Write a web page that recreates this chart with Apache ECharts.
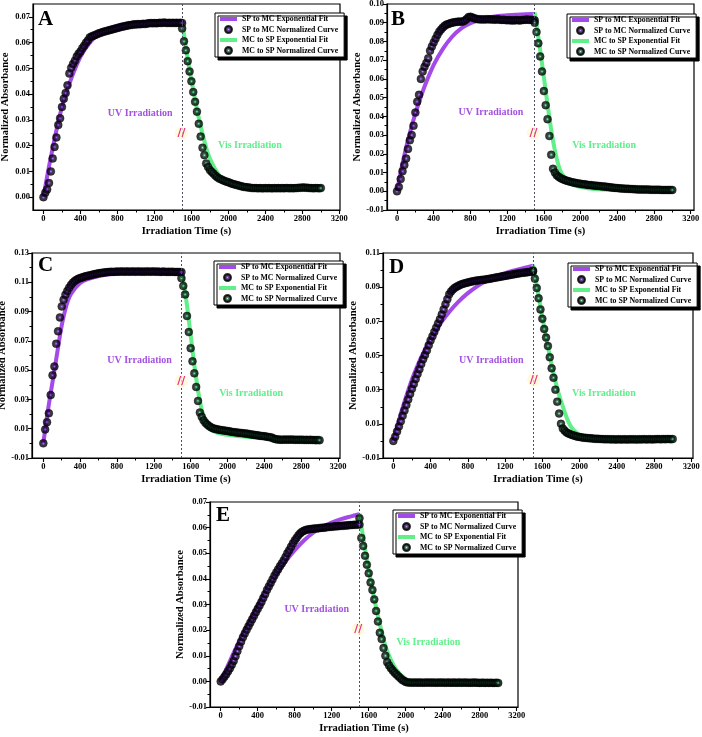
<!DOCTYPE html>
<html><head><meta charset="utf-8">
<script src="https://cdn.jsdelivr.net/npm/echarts@6/dist/echarts.min.js"></script>
<style>html,body{margin:0;padding:0;background:#fff}#c{width:702px;height:737px}</style>
</head><body><div id="c"></div>
<script>
// ---------- DATA ----------
const uvTime = [0,20,40,60,80,100,120,140,160,180,200,220,240,260,280,300,320,340,360,380,400,420,440,460,480,500,520,540,560,580,600,620,640,660,680,700,720,740,760,780,800,820,840,860,880,900,920,940,960,980,1000,1020,1040,1060,1080,1100,1120,1140,1160,1180,1200,1220,1240,1260,1280,1300,1320,1340,1360,1380,1400,1420,1440,1460,1480,1500];
const visTime = [1500,1520,1540,1560,1580,1600,1620,1640,1660,1680,1700,1720,1740,1760,1780,1800,1820,1840,1860,1880,1900,1920,1940,1960,1980,2000,2020,2040,2060,2080,2100,2120,2140,2160,2180,2200,2220,2240,2260,2280,2300,2320,2340,2360,2380,2400,2420,2440,2460,2480,2500,2520,2540,2560,2580,2600,2620,2640,2660,2680,2700,2720,2740,2760,2780,2800,2820,2840,2860,2880,2900,2920,2940,2960,2980,3000];
const uvFitTime = [0,50,100,150,200,250,300,400,500,600,700,800,900,1000,1100,1200,1300,1400,1500];
const visFitTime = [1500,1550,1600,1650,1700,1750,1800,1900,2000,2100,2200,2400,2600,2800,3000];

const xTickLabels = [0,400,800,1200,1600,2000,2400,2800,3200];
const yTicksA = [0,0.01,0.02,0.03,0.04,0.05,0.06,0.07];
const yTicksB = [-0.01,0,0.01,0.02,0.03,0.04,0.05,0.06,0.07,0.08,0.09,0.10];
const yTicksC = [-0.01,0.01,0.03,0.05,0.07,0.09,0.11,0.13];
const yTicksD = [-0.01,0.01,0.03,0.05,0.07,0.09,0.11];
const yTicksE = [-0.01,0,0.01,0.02,0.03,0.04,0.05,0.06,0.07];

const panelLetters = ['A','B','C','D','E'];
const seriesNames = ['SP to MC Exponential Fit','SP to MC Normalized Curve','MC to SP Exponential Fit','MC to SP Normalized Curve'];

// Panel A
const aUV = [0.0000,0.0017,0.0030,0.0055,0.0100,0.0150,0.0195,0.0232,0.0280,0.0306,
0.0350,0.0382,0.0404,0.0434,0.0480,0.0502,0.0517,0.0530,0.0546,0.0557,
0.0566,0.0578,0.0588,0.0600,0.0608,0.0620,0.0624,0.0627,0.0630,0.0633,
0.0636,0.0638,0.0641,0.0643,0.0645,0.0647,0.0649,0.0651,0.0653,0.0655,
0.0657,0.0659,0.0661,0.0663,0.0664,0.0666,0.0667,0.0668,0.0669,0.0671,
0.0670,0.0672,0.0671,0.0672,0.0673,0.0672,0.0674,0.0675,0.0676,0.0675,
0.0676,0.0675,0.0676,0.0677,0.0676,0.0678,0.0677,0.0676,0.0677,0.0676,
0.0677,0.0676,0.0677,0.0676,0.0677,0.0676];
const aVis = [0.0655,0.0605,0.0570,0.0528,0.0488,0.0450,0.0408,0.0370,0.0332,0.0285,
0.0235,0.0192,0.0163,0.0131,0.0117,0.0105,0.0098,0.0091,0.0083,0.0077,
0.0072,0.0069,0.0066,0.0063,0.0060,0.0058,0.0055,0.0052,0.0050,0.0048,
0.0046,0.0044,0.0042,0.0040,0.0039,0.0038,0.0037,0.0036,0.0035,0.0035,
0.0035,0.0034,0.0035,0.0034,0.0034,0.0035,0.0034,0.0035,0.0034,0.0034,
0.0035,0.0034,0.0035,0.0034,0.0035,0.0034,0.0035,0.0035,0.0034,0.0035,
0.0034,0.0035,0.0035,0.0036,0.0036,0.0037,0.0037,0.0036,0.0036,0.0035,
0.0035,0.0034,0.0035,0.0035,0.0034,0.0035];
const aFitUV = [0,0.0100,0.0190,0.0275,0.0350,0.0410,0.0460,0.0545,0.0600,0.0633,0.0653,0.0664,0.0670,0.0674,0.0676,0.0677,0.0678,0.0678,0.0678];
const aFitVis = [0.0680,0.0560,0.0455,0.0360,0.0275,0.0205,0.0150,0.0085,0.0055,0.0042,0.0036,0.0033,0.0032,0.0032,0.0032];

// Panel B
const bUV = [0.0000,0.0023,0.0065,0.0107,0.0140,0.0175,0.0226,0.0272,0.0300,0.0350,
0.0420,0.0478,0.0515,0.0600,0.0640,0.0665,0.0685,0.0710,0.0750,0.0773,
0.0795,0.0815,0.0835,0.0852,0.0864,0.0875,0.0884,0.0890,0.0893,0.0897,
0.0900,0.0902,0.0904,0.0905,0.0906,0.0905,0.0907,0.0912,0.0920,0.0930,
0.0932,0.0928,0.0924,0.0921,0.0919,0.0918,0.0917,0.0918,0.0917,0.0919,
0.0918,0.0917,0.0918,0.0916,0.0917,0.0918,0.0916,0.0915,0.0916,0.0914,
0.0913,0.0914,0.0912,0.0913,0.0912,0.0914,0.0913,0.0912,0.0914,0.0915,
0.0916,0.0917,0.0915,0.0916,0.0914,0.0913];
const bVis = [0.0900,0.0850,0.0790,0.0720,0.0640,0.0535,0.0460,0.0385,0.0295,0.0195,
0.0120,0.0100,0.0086,0.0078,0.0071,0.0066,0.0062,0.0058,0.0055,0.0052,
0.0049,0.0047,0.0045,0.0043,0.0041,0.0040,0.0038,0.0037,0.0036,0.0034,
0.0033,0.0032,0.0031,0.0030,0.0029,0.0028,0.0027,0.0026,0.0025,0.0024,
0.0023,0.0021,0.0020,0.0019,0.0018,0.0017,0.0016,0.0015,0.0015,0.0014,
0.0013,0.0013,0.0012,0.0012,0.0011,0.0011,0.0010,0.0010,0.0010,0.0009,
0.0009,0.0009,0.0009,0.0008,0.0008,0.0008,0.0008,0.0008,0.0008,0.0007,
0.0007,0.0007,0.0007,0.0007,0.0007,0.0007];
const bFitUV = [0,0.0125,0.0235,0.0330,0.0415,0.0490,0.0560,0.0675,0.0760,0.0825,0.0870,0.0898,0.0916,0.0928,0.0936,0.0940,0.0943,0.0945,0.0946];
const bFitVis = [0.0955,0.0790,0.0610,0.0430,0.0270,0.0155,0.0090,0.0040,0.0022,0.0015,0.0011,0.0008,0.0007,0.0007,0.0007];

// Panel C
const cUV = [0.0000,0.0095,0.0145,0.0205,0.0330,0.0465,0.0525,0.0680,0.0765,0.0860,
0.0935,0.0980,0.1015,0.1040,0.1063,0.1082,0.1097,0.1108,0.1117,0.1124,
0.1129,0.1133,0.1137,0.1141,0.1144,0.1147,0.1150,0.1153,0.1156,0.1159,
0.1161,0.1163,0.1165,0.1167,0.1168,0.1170,0.1171,0.1172,0.1171,0.1172,
0.1173,0.1172,0.1174,0.1173,0.1172,0.1174,0.1173,0.1172,0.1173,0.1174,
0.1172,0.1173,0.1174,0.1172,0.1173,0.1172,0.1174,0.1173,0.1172,0.1173,
0.1174,0.1172,0.1173,0.1172,0.1171,0.1173,0.1172,0.1171,0.1172,0.1171,
0.1172,0.1171,0.1170,0.1171,0.1170,0.1170];
const cVis = [0.1128,0.1075,0.1017,0.0870,0.0760,0.0650,0.0560,0.0478,0.0385,0.0290,
0.0210,0.0182,0.0158,0.0140,0.0128,0.0118,0.0110,0.0104,0.0100,0.0097,
0.0094,0.0092,0.0090,0.0088,0.0086,0.0084,0.0082,0.0079,0.0077,0.0076,
0.0074,0.0073,0.0071,0.0070,0.0068,0.0067,0.0065,0.0063,0.0061,0.0059,
0.0057,0.0055,0.0053,0.0051,0.0050,0.0048,0.0046,0.0044,0.0042,0.0040,
0.0033,0.0029,0.0027,0.0026,0.0025,0.0025,0.0026,0.0025,0.0026,0.0025,
0.0026,0.0025,0.0024,0.0025,0.0024,0.0025,0.0024,0.0023,0.0024,0.0023,
0.0024,0.0023,0.0023,0.0022,0.0023,0.0022];
const cFitUV = [0,0.0225,0.0420,0.0615,0.0805,0.0940,0.1020,0.1095,0.1125,0.1142,0.1153,0.1160,0.1165,0.1168,0.1171,0.1173,0.1174,0.1175,0.1176];
const cFitVis = [0.1190,0.0990,0.0740,0.0490,0.0290,0.0165,0.0105,0.0070,0.0058,0.0050,0.0045,0.0036,0.0029,0.0025,0.0022];

// Panel D
const dUV = [0.0000,0.0025,0.0055,0.0085,0.0115,0.0147,0.0178,0.0210,0.0243,0.0275,
0.0305,0.0333,0.0362,0.0392,0.0420,0.0450,0.0478,0.0503,0.0530,0.0560,
0.0588,0.0613,0.0638,0.0663,0.0688,0.0712,0.0740,0.0770,0.0800,0.0830,
0.0858,0.0875,0.0887,0.0896,0.0903,0.0909,0.0914,0.0918,0.0922,0.0925,
0.0928,0.0930,0.0933,0.0935,0.0937,0.0939,0.0940,0.0942,0.0943,0.0944,
0.0946,0.0948,0.0950,0.0952,0.0954,0.0956,0.0958,0.0960,0.0962,0.0964,
0.0966,0.0968,0.0970,0.0972,0.0974,0.0976,0.0978,0.0980,0.0982,0.0984,
0.0985,0.0986,0.0988,0.0989,0.0990,0.0992];
const dVis = [0.0998,0.0950,0.0895,0.0835,0.0770,0.0715,0.0655,0.0605,0.0555,0.0490,
0.0425,0.0370,0.0300,0.0230,0.0160,0.0100,0.0072,0.0060,0.0050,0.0044,
0.0039,0.0034,0.0031,0.0028,0.0025,0.0023,0.0021,0.0019,0.0018,0.0017,
0.0016,0.0015,0.0014,0.0013,0.0012,0.0012,0.0011,0.0011,0.0010,0.0010,
0.0010,0.0010,0.0009,0.0010,0.0009,0.0009,0.0010,0.0009,0.0009,0.0010,
0.0009,0.0009,0.0010,0.0009,0.0010,0.0009,0.0009,0.0010,0.0009,0.0010,
0.0010,0.0009,0.0010,0.0010,0.0009,0.0010,0.0010,0.0011,0.0010,0.0010,
0.0011,0.0010,0.0011,0.0011,0.0010,0.0011];
const dFitUV = [0,0.0100,0.0195,0.0280,0.0360,0.0428,0.0490,0.0595,0.0683,0.0755,0.0815,0.0865,0.0905,0.0937,0.0962,0.0982,0.0998,0.1012,0.1025];
const dFitVis = [0.1030,0.0880,0.0725,0.0580,0.0445,0.0330,0.0235,0.0090,0.0035,0.0018,0.0012,0.0009,0.0008,0.0008,0.0008];

// Panel E
const eUV = [0.0000,0.0008,0.0018,0.0028,0.0040,0.0051,0.0065,0.0080,0.0098,0.0118,
0.0137,0.0155,0.0172,0.0187,0.0201,0.0215,0.0229,0.0242,0.0256,0.0270,
0.0283,0.0296,0.0310,0.0325,0.0340,0.0357,0.0370,0.0384,0.0398,0.0412,
0.0425,0.0437,0.0449,0.0460,0.0472,0.0485,0.0500,0.0512,0.0525,0.0538,
0.0550,0.0560,0.0570,0.0578,0.0584,0.0588,0.0591,0.0593,0.0594,0.0595,
0.0596,0.0597,0.0597,0.0598,0.0599,0.0600,0.0600,0.0601,0.0602,0.0603,
0.0603,0.0604,0.0605,0.0605,0.0606,0.0607,0.0607,0.0608,0.0608,0.0609,
0.0610,0.0610,0.0611,0.0611,0.0612,0.0612];
const eVis = [0.0637,0.0560,0.0528,0.0490,0.0455,0.0422,0.0386,0.0357,0.0320,0.0275,
0.0234,0.0190,0.0165,0.0130,0.0100,0.0075,0.0062,0.0051,0.0042,0.0034,
0.0027,0.0020,0.0013,0.0006,0.0002,-0.0002,-0.0004,-0.0004,-0.0005,-0.0004,
-0.0005,-0.0004,-0.0005,-0.0004,-0.0005,-0.0005,-0.0004,-0.0005,-0.0004,-0.0005,
-0.0004,-0.0005,-0.0005,-0.0004,-0.0005,-0.0004,-0.0005,-0.0005,-0.0004,-0.0005,
-0.0005,-0.0004,-0.0005,-0.0005,-0.0004,-0.0005,-0.0005,-0.0004,-0.0005,-0.0005,
-0.0005,-0.0005,-0.0004,-0.0005,-0.0005,-0.0006,-0.0005,-0.0005,-0.0006,-0.0005,
-0.0006,-0.0005,-0.0006,-0.0006,-0.0005,-0.0006];
const eFitUV = [0,0.0040,0.0080,0.0119,0.0156,0.0191,0.0225,0.0295,0.0360,0.0418,0.0468,0.0512,0.0550,0.0580,0.0603,0.0620,0.0633,0.0643,0.0652];
const eFitVis = [0.0655,0.0540,0.0435,0.0340,0.0255,0.0180,0.0118,0.0045,0.0010,-0.0003,-0.0008,-0.0011,-0.0012,-0.0012,-0.0012];

// ---------- LAYOUT / STYLE ----------
const FONT = "'Liberation Serif','Times New Roman',serif";
const PURPLE = '#a34ae8', GREEN = '#62ee88', PURPLE_TXT = '#a452e0', GREEN_TXT = '#5ef08a';
const panels = [
  {uv:aUV, vis:aVis, fitUV:aFitUV, fitVis:aFitVis, yTicks:yTicksA,
   grid:{left:33, top:4, width:307, height:206}, x:[-113,3207], y:[-0.005,0.075],
   letter:[38,9], legend:[215,13], uvText:[1046,0.0327], visText:[2233,0.0200], brk:[1493,0.0248]},
  {uv:bUV, vis:bVis, fitUV:bFitUV, fitVis:bFitVis, yTicks:yTicksB,
   grid:{left:387, top:4, width:307, height:206}, x:[-109,3236], y:[-0.01,0.10],
   letter:[391,9], legend:[567,14], uvText:[1023,0.0421], visText:[2256,0.0245], brk:[1487,0.0311]},
  {uv:cUV, vis:cVis, fitUV:cFitUV, fitVis:cFitVis, yTicks:yTicksC,
   grid:{left:32, top:253, width:308, height:205}, x:[-123,3222], y:[-0.01,0.13],
   letter:[38,255], legend:[214,261], uvText:[1045,0.0565], visText:[2256,0.0344], brk:[1497,0.0424]},
  {uv:dUV, vis:dVis, fitUV:dFitUV, fitVis:dFitVis, yTicks:yTicksD,
   grid:{left:383, top:253, width:310, height:205}, x:[-111,3218], y:[-0.01,0.11],
   letter:[389,257], legend:[568,263], uvText:[1052,0.0471], visText:[2262,0.0280], brk:[1507,0.0358]},
  {uv:eUV, vis:eVis, fitUV:eFitUV, fitVis:eFitVis, yTicks:yTicksE,
   grid:{left:210, top:502, width:308, height:205}, x:[-116,3214], y:[-0.01,0.07],
   letter:[216,505], legend:[393,510], uvText:[1038,0.0280], visText:[2245,0.0153], brk:[1488,0.0205]}
];

function zip(a,b){ return a.map((v,i)=>[v,b[i]]); }
function mids(arr){ const r=[]; for(let i=0;i<arr.length-1;i++) r.push(+((arr[i]+arr[i+1])/2).toFixed(4)); return r; }
function ball(c0,c1,c2){ return {type:'radial',x:0.5,y:0.5,r:0.5,colorStops:[{offset:0,color:c0},{offset:0.22,color:c1},{offset:0.46,color:c2},{offset:1,color:'#000'}]}; }

const lblStyle = {fontFamily:FONT, fontWeight:'bold', fontSize:8.5, color:'#000'};
const nameStyle = {fontFamily:FONT, fontWeight:'bold', fontSize:10.5, color:'#000'};
const axisLine = {show:true, onZero:false, lineStyle:{color:'#000', width:1.2}};

const option = {animation:false, backgroundColor:'#fff', grid:[], xAxis:[], yAxis:[], series:[], legend:[], title:[]};
const xMinor = mids(xTickLabels);

panels.forEach((p,i)=>{
  option.grid.push(Object.assign({show:true, borderColor:'#000', borderWidth:1.2, backgroundColor:'transparent', outerBoundsMode:'none'}, p.grid));
  const xi = option.xAxis.length, yi = option.yAxis.length;
  option.xAxis.push({type:'value', gridIndex:i, position:'bottom', min:p.x[0], max:p.x[1],
    name:'Irradiation Time (s)', nameLocation:'middle', nameGap:16, nameTextStyle:nameStyle,
    axisLine:axisLine, splitLine:{show:false},
    axisTick:{show:true, customValues:xTickLabels, length:4, lineStyle:{color:'#000', width:1.1}},
    axisLabel:Object.assign({customValues:xTickLabels, margin:4, formatter:v=>String(v)}, lblStyle)});
  option.xAxis.push({type:'value', gridIndex:i, position:'bottom', min:p.x[0], max:p.x[1],
    axisLine:{show:false, onZero:false}, splitLine:{show:false}, axisLabel:{show:false},
    axisTick:{show:true, customValues:xMinor, length:2.5, lineStyle:{color:'#000', width:1}}});
  option.yAxis.push({type:'value', gridIndex:i, position:'left', min:p.y[0], max:p.y[1],
    name:'Normalized Absorbance', nameLocation:'middle', nameRotate:90, nameGap:21, nameTextStyle:nameStyle,
    axisLine:axisLine, splitLine:{show:false},
    axisTick:{show:true, customValues:p.yTicks, length:4, lineStyle:{color:'#000', width:1.1}},
    axisLabel:Object.assign({customValues:p.yTicks, margin:3, formatter:v=>v.toFixed(2)}, lblStyle)});
  option.yAxis.push({type:'value', gridIndex:i, position:'left', min:p.y[0], max:p.y[1],
    axisLine:{show:false, onZero:false}, splitLine:{show:false}, axisLabel:{show:false},
    axisTick:{show:true, customValues:mids(p.yTicks), length:2.5, lineStyle:{color:'#000', width:1}}});

  const txt = (t,c)=>({show:true, formatter:t, color:c, fontFamily:FONT, fontWeight:'bold', fontSize:10, position:'inside'});
  option.series.push({name:seriesNames[0], type:'line', xAxisIndex:xi, yAxisIndex:yi, data:zip(uvFitTime,p.fitUV),
    smooth:0.35, symbol:'none', z:2, lineStyle:{color:PURPLE, width:4}, itemStyle:{color:PURPLE},
    markLine:{silent:true, symbol:'none', label:{show:false}, lineStyle:{type:[2,2], color:'#4a4f66', width:1}, data:[{xAxis:1500}]},
    markPoint:{silent:true, data:[
      {coord:p.uvText, symbol:'circle', symbolSize:1, itemStyle:{color:'rgba(0,0,0,0)'}, label:txt('UV Irradiation',PURPLE_TXT)},
      {coord:p.brk, symbol:'circle', symbolSize:13, itemStyle:{color:'rgba(255,248,205,0.75)'},
        label:{show:true, formatter:'//', color:'#e6308f', fontFamily:'DejaVu Sans', fontWeight:'bold', fontSize:11, position:'inside'}}
    ]}});
  option.series.push({name:seriesNames[1], type:'scatter', xAxisIndex:xi, yAxisIndex:yi, data:zip(uvTime,p.uv),
    symbol:'circle', symbolSize:8, z:4, itemStyle:{color:ball('#b878ff','#5c1aa8','#0e0420'), borderColor:'#000', borderWidth:0.4}});
  option.series.push({name:seriesNames[2], type:'line', xAxisIndex:xi, yAxisIndex:yi, data:zip(visFitTime,p.fitVis),
    smooth:0.35, symbol:'none', z:2, lineStyle:{color:GREEN, width:4}, itemStyle:{color:GREEN},
    markPoint:{silent:true, data:[
      {coord:p.visText, symbol:'circle', symbolSize:1, itemStyle:{color:'rgba(0,0,0,0)'}, label:txt('Vis Irradiation',GREEN_TXT)}
    ]}});
  option.series.push({name:seriesNames[3], type:'scatter', xAxisIndex:xi, yAxisIndex:yi, data:zip(visTime,p.vis),
    symbol:'circle', symbolSize:8, z:4, itemStyle:{color:ball('#a8ffd0','#267a50','#061a10'), borderColor:'#000', borderWidth:0.4}});

  option.legend.push({left:p.legend[0], top:p.legend[1], orient:'vertical', selectedMode:false,
    itemGap:2, itemWidth:17, itemHeight:7, padding:[2,6,2,3],
    borderColor:'#000', borderWidth:1, backgroundColor:'#fff', borderRadius:0,
    shadowColor:'#000', shadowOffsetX:3, shadowOffsetY:3, shadowBlur:0.01,
    textStyle:{fontFamily:FONT, fontWeight:'bold', fontSize:7.8, color:'#000'},
    data:[
      {name:seriesNames[0], itemStyle:{opacity:0}, lineStyle:{width:4, color:PURPLE}},
      {name:seriesNames[1]},
      {name:seriesNames[2], itemStyle:{opacity:0}, lineStyle:{width:4, color:GREEN}},
      {name:seriesNames[3]}
    ]});
  option.title.push({text:panelLetters[i], left:p.letter[0], top:p.letter[1], padding:0,
    textStyle:{fontFamily:FONT, fontWeight:'bold', fontSize:21, color:'#000'}});
});

const chart = echarts.init(document.getElementById('c'), null, {renderer:'canvas'});
chart.setOption(option);
</script>
</body></html>
